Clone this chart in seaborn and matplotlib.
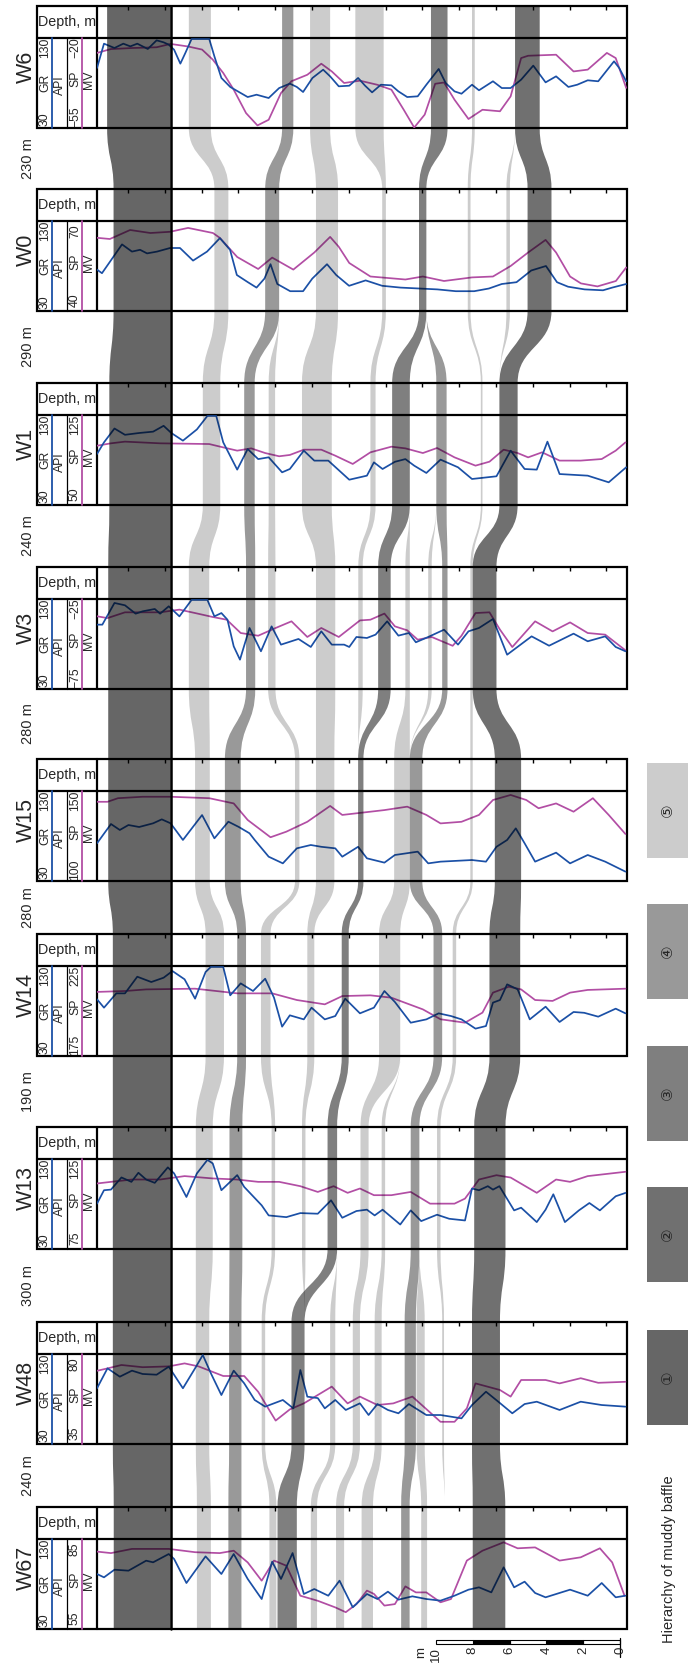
import matplotlib
matplotlib.use("Agg")
import matplotlib.pyplot as plt
from matplotlib.path import Path
from matplotlib.patches import PathPatch, Rectangle
import seaborn as sns

sns.set_theme(style="white")
plt.rcParams['font.family'] = ['Liberation Sans', 'DejaVu Sans', 'Noto Sans CJK SC']

# ---- data -------------------------------------------------------------
WELLS = ["W6", "W0", "W1", "W3", "W15", "W14", "W13", "W48", "W67"]
SPACING = ["230 m", "290 m", "240 m", "280 m", "280 m", "190 m", "300 m", "240 m"]
GR_RANGE = (30, 130)
SP_LO = [-55, 40, 50, -75, 100, 175, 75, 35, 55]
SP_HI = [-20, 70, 125, -25, 150, 225, 125, 80, 85]
HAS_API = [True] * 9

# log curves: depth (m, from left edge of the log track) and values
W6_GR_X = [0, 0.38, 0.95, 1.43, 1.81, 2.19, 2.76, 3.24, 3.62, 3.9, 4.19, 4.53, 4.8, 5.14, 6.1, 6.38, 6.76, 7.24, 8.19, 8.67,
           9.33, 9.9, 10.48, 10.86, 11.2, 11.71, 12.29, 12.67, 13.14, 13.71, 14.19, 14.57, 14.95, 15.43, 16.0, 16.38, 16.86,
           17.43, 17.9, 18.57, 18.95, 19.43, 19.81, 20.38, 20.76, 21.52, 22.0, 22.48, 23.05, 23.71, 24.38, 24.95, 25.62,
           26.1, 26.67, 27.24, 28.1, 28.38, 28.76]
W6_GR = [96.7, 123.7, 118.9, 123.7, 120.7, 123.7, 117.8, 127.4, 125.2, 122.6, 117, 101.5, 113.3, 128.9, 128.9, 109.6, 85.6,
         75.6, 64.4, 67, 63.3, 74.4, 79.3, 75.6, 70, 85.6, 94.8, 87.4, 76.3, 77, 85.6, 77, 69.6, 78.1, 77.4, 70.7, 64.4, 65.2,
         78.1, 95.6, 80, 70.7, 68.1, 78.1, 71.9, 81.9, 74.4, 74.4, 83.7, 99.3, 80.7, 87.4, 75.6, 78.1, 83, 81.9, 104.1, 96.7, 81.9]
W6_SP_X = [0, 0.76, 1.9, 3.24, 4.0, 4.95, 5.71, 6.29, 6.86, 7.43, 8.1, 8.72, 9.33, 10.0, 10.57, 11.43, 12.19, 12.76, 13.43,
           14.29, 15.24, 16.0, 16.67, 17.24, 17.81, 18.38, 18.86, 19.43, 20.19, 20.95, 21.9, 22.48, 23.05, 23.43, 24.95,
           25.9, 26.67, 27.71, 28.19, 28.76]
W6_SP = [-25.8, -24.3, -23.9, -23.6, -22.3, -23.3, -24.5, -28.4, -33.6, -40.1, -49.2, -54, -51.8, -41.4, -36.8, -34.3, -30,
         -33, -37.5, -36.6, -38.2, -40.1, -47.9, -54.8, -49.8, -37.8, -37.3, -44, -51.5, -47.9, -48.5, -42.7, -27.8, -26.9,
         -26.5, -33, -32.3, -25.8, -27.8, -39.4]

W0_GR_X = [0, 0.27, 1.36, 1.9, 2.34, 2.72, 3.26, 3.97, 4.51, 5.22, 5.98, 6.68, 7.23, 7.6, 8.2, 8.67, 9.1, 9.43, 9.8, 10.5,
           11.2, 11.7, 12.5, 13.0, 13.7, 14.6, 15.5, 16.5, 17.5, 18.5, 19.5, 20.5, 21.3, 22.0, 22.8, 23.6, 24.4, 25.0, 25.6,
           26.5, 27.5, 28.0, 28.76]
W0_GR = [76, 72, 104, 96, 98, 94, 96, 100, 100, 86, 96, 111, 98, 70, 62, 56, 66, 82, 60, 52, 52, 66, 82, 70, 58, 64, 58,
         56, 55, 54, 52, 52, 55, 60, 62, 75, 80, 62, 57, 54, 53, 56, 60]
W0_SP_X = [0, 0.7, 1.8, 2.9, 3.97, 4.95, 6.3, 6.67, 7.62, 8.76, 9.52, 10.67, 11.81, 12.67, 13.14, 13.71, 14.86, 16.76,
           17.71, 18.86, 20.38, 21.52, 22.48, 23.43, 24.38, 24.95, 25.71, 26.3, 27.2, 28.2, 28.76]
W0_SP = [64.4, 64, 67, 66, 66.4, 67.7, 66, 64.4, 58, 54, 57.8, 53.8, 59.5, 64.7, 61.4, 56, 51.5, 50.5, 51.5, 50, 51.2,
         51.5, 55, 59.5, 63.7, 59.5, 51.5, 49.2, 48.2, 50, 54.5]

W1_GR_X = [0, 0.38, 0.95, 1.52, 2.29, 3.05, 3.62, 4.04, 4.67, 5.43, 6.0, 6.48, 6.86, 7.62, 8.19, 8.76, 9.33, 10.06, 10.48,
           11.24, 11.81, 12.57, 13.71, 14.67, 15.05, 15.52, 16.19, 16.76, 17.24, 17.9, 18.67, 19.62, 20.38, 21.71, 22.48,
           23.24, 23.9, 24.48, 25.14, 26.67, 27.81, 28.76]
W1_GR = [86.7, 99.6, 115, 108, 110, 111.5, 118, 110, 101.5, 114, 129, 129, 99.6, 69.3, 92.2, 81, 83, 66.3, 70, 90.4, 79.3,
         79.3, 58.1, 62.6, 77.4, 70, 78, 81, 73.7, 65.6, 80.4, 71.9, 58.9, 61.9, 90.4, 70, 69.3, 100.4, 64.4, 62.6, 55.2, 71.9]
W1_SP_X = [0, 0.76, 1.52, 3.43, 6.1, 6.86, 7.62, 8.38, 9.14, 9.9, 10.48, 11.24, 12.19, 12.95, 13.9, 14.86, 16.0, 16.76,
           17.71, 18.48, 19.43, 20.57, 21.33, 22.1, 22.86, 23.43, 24.19, 25.14, 26.29, 27.43, 28.19, 28.72]
W1_SP = [99.4, 101.4, 102.8, 101.4, 100.8, 98, 95.3, 97.2, 93.3, 90.6, 91.7, 96.1, 96.1, 91.1, 84.2, 93.9, 98.6, 97.2,
         93.3, 97.5, 89.7, 82.8, 86.1, 96.1, 93.3, 89.7, 93.9, 87, 87, 88.3, 95.3, 102.2]

W3_GR_X = [0, 0.29, 0.95, 1.52, 2.1, 2.48, 3.14, 3.43, 3.9, 4.48, 5.14, 6.0, 6.38, 6.76, 7.09, 7.43, 7.77, 8.29, 8.91,
           9.49, 10.0, 10.95, 11.62, 12.19, 12.76, 13.43, 13.71, 14.1, 14.67, 15.14, 15.77, 16.38, 16.95, 17.33, 18.0,
           18.86, 19.62, 20.19, 20.76, 21.52, 22.29, 23.62, 24.57, 25.9, 26.67, 27.62, 28.19, 28.72]
W3_GR = [101.5, 101.5, 125.6, 123, 113.7, 116.3, 118.9, 113.7, 121.9, 110.7, 129, 129, 110.7, 114.4, 107, 77.4, 62.6,
         97.8, 71.9, 99.6, 79.3, 85.6, 76.7, 94.1, 79.3, 79.3, 76.7, 87.8, 86.7, 90.4, 105.2, 89.3, 92.2, 81.9, 87.8, 95.9,
         79.3, 94.1, 97.8, 107.8, 68.1, 88.5, 78.1, 91.5, 83, 88.5, 76.7, 71.9]
W3_SP_X = [0, 0.57, 1.52, 3.43, 4.48, 5.33, 6.29, 7.05, 7.81, 8.76, 9.71, 10.57, 11.43, 12.19, 13.14, 14.29, 14.86, 15.62,
           16.19, 16.86, 17.43, 18.19, 19.33, 19.81, 20.57, 21.33, 21.9, 22.57, 23.81, 24.76, 25.71, 26.67, 27.62, 28.72]
W3_SP = [-34.6, -35.6, -32.4, -32.4, -30.9, -32.8, -35, -36.5, -43.9, -45.4, -41.1, -37.4, -46.1, -41.1, -46.1, -36.9,
         -36.5, -33.1, -40.2, -42.4, -47.6, -46.1, -51, -45.4, -32.8, -32.4, -42, -51.7, -37.4, -43, -38, -43.9, -44.8, -53.5]

W15_GR_X = [0, 0.76, 1.24, 1.71, 2.29, 3.05, 3.52, 4.0, 4.67, 5.71, 6.38, 7.14, 7.71, 8.29, 8.57, 9.33, 10.1, 10.86,
            11.62, 12.19, 12.95, 13.33, 14.19, 14.67, 15.62, 16.19, 17.43, 18.0, 18.67, 20.38, 21.14, 21.71, 22.29, 22.76,
            23.24, 23.81, 24.95, 25.71, 26.67, 27.62, 28.72]
W15_GR = [71.9, 93.3, 86.7, 92.2, 90, 94.1, 98.5, 94.1, 75.6, 103.3, 77.4, 95.9, 90, 83, 75.6, 57, 49.6, 66.3, 70, 68,
          66.3, 57, 68, 55.2, 50.4, 58.9, 62.6, 49.6, 51.5, 53.3, 51.5, 68, 75.6, 88.5, 71.9, 51.5, 61.5, 49.6, 58.9, 51.5, 40.4]
W15_SP_X = [0, 0.57, 1.14, 2.48, 4.0, 6.1, 7.43, 8.19, 9.43, 10.29, 11.43, 12.67, 13.33, 14.86, 15.62, 16.86, 17.9, 18.67,
            19.81, 20.76, 21.52, 22.48, 23.33, 24.0, 24.95, 25.9, 26.95, 27.81, 28.72]
W15_SP = [144, 144, 146, 146.8, 146.8, 146, 143.1, 133.9, 124.3, 127.4, 132.9, 141.7, 136.7, 138.5, 139.4, 141.3, 136.7,
          132, 132.9, 136.7, 145, 147.8, 145, 140.4, 143.1, 138.5, 146, 136.7, 126.1]

W14_GR_X = [0, 0.38, 1.05, 1.52, 2.19, 2.95, 3.62, 4.1, 4.76, 5.33, 5.9, 6.19, 6.86, 7.24, 7.81, 8.48, 9.14, 9.62, 10.06,
            10.48, 11.24, 11.66, 12.38, 12.95, 13.49, 14.29, 15.05, 15.62, 16.19, 17.05, 17.9, 18.57, 19.24, 19.81, 20.57,
            21.14, 21.52, 21.9, 22.29, 22.86, 23.52, 24.38, 25.14, 25.9, 26.48, 27.24, 28.19, 28.72]
W14_GR = [93, 83.7, 99.6, 99.6, 118.1, 112.2, 117, 124.4, 115.2, 93.7, 123.3, 129, 129, 97.4, 110.7, 102.2, 115.9, 94.8,
          62.6, 75.2, 70.7, 83.7, 70.7, 74.4, 93.7, 77.4, 83.7, 102.2, 90, 67, 70.7, 77.4, 74.4, 70.7, 60.4, 63.3, 89.3,
          92.2, 109.6, 104.1, 70.7, 84.8, 67.8, 78.9, 78, 73.7, 82.6, 77.4]
W14_SP_X = [0, 1.52, 2.67, 5.33, 6.48, 7.62, 9.52, 10.86, 12.38, 13.33, 14.86, 16.0, 17.71, 18.67, 20.0, 20.95, 21.52,
            22.38, 23.05, 23.81, 24.76, 25.71, 26.67, 28.72]
W14_SP = [210.6, 211.1, 212, 212.4, 211.1, 209.8, 209.8, 206.1, 203.7, 208.3, 208.7, 207.4, 200.9, 195.4, 193.5, 199.1,
          210.2, 213.5, 212, 206.1, 205.6, 210.2, 211.7, 212.4]

W13_GR_X = [0, 0.38, 0.76, 1.33, 1.87, 2.25, 2.67, 3.14, 3.85, 4.19, 4.86, 5.43, 6.0, 6.29, 6.76, 7.62, 8.0, 8.95, 9.33,
            10.29, 11.05, 12.0, 12.72, 13.33, 14.1, 14.67, 15.09, 15.52, 16.48, 17.05, 17.62, 18.48, 19.14, 20.0, 20.38,
            20.76, 21.24, 21.52, 21.87, 22.67, 23.05, 23.9, 24.38, 24.8, 25.43, 26.19, 26.76, 27.33, 28.19, 28.72]
W13_GR = [80.4, 95.3, 96, 109.5, 104.6, 114.7, 107.2, 103.5, 120.7, 114, 87.8, 114, 129, 125.1, 95.3, 112.1, 99, 78.5,
          67.3, 65.4, 69.9, 69.2, 84.1, 64.7, 72.2, 73.7, 67.3, 73.7, 57.2, 72.9, 61, 68.1, 63.6, 61.7, 97.2, 95.3, 99.8,
          96, 99.8, 72.9, 75.9, 59.9, 73.7, 90.8, 59.9, 72.9, 81.1, 72.9, 88.6, 92.3]
W13_SP_X = [0, 0.76, 1.9, 3.43, 4.76, 6.29, 7.62, 8.76, 9.9, 11.05, 12.0, 12.86, 13.62, 14.29, 15.05, 16.0, 17.05, 18.1,
            19.43, 20.0, 20.76, 21.71, 22.48, 23.9, 24.95, 25.71, 26.67, 28.72]
W13_SP = [111.4, 112.3, 113.6, 113.6, 115.5, 114.2, 113.6, 112.3, 112.3, 109.9, 106.7, 109.9, 106.2, 108.6, 104.9, 104.9,
          106.7, 100.2, 100.2, 103, 113.6, 116, 114.7, 106.2, 113.6, 112.3, 115.5, 117.9]

W48_GR_X = [0, 0.57, 1.24, 1.9, 2.48, 3.24, 3.9, 4.67, 5.33, 5.75, 6.19, 6.76, 7.43, 8.0, 8.57, 9.14, 10.1, 10.67, 11.05,
            11.43, 12.0, 12.38, 12.95, 13.52, 14.29, 14.76, 15.24, 15.81, 16.38, 16.95, 17.9, 18.67, 19.81, 20.38, 21.14,
            21.81, 22.57, 23.24, 23.9, 25.14, 26.29, 27.43, 28.72]
W48_GR = [91.9, 114.1, 104.8, 111.5, 107.8, 107, 115.9, 91.9, 114.1, 128.9, 108.5, 84.4, 111.5, 97.4, 78.9, 71.5, 78.9,
          69.6, 112.2, 82.6, 81, 69.6, 78.9, 67.8, 75.2, 62.2, 74.4, 67.8, 64.1, 74.4, 62.2, 62.2, 58.5, 73.3, 88.1, 77,
          64.1, 74.4, 77, 67.8, 77, 73.3, 71.5]
W48_SP_X = [0, 0.57, 1.33, 2.48, 3.9, 4.76, 5.52, 6.86, 8.0, 8.76, 9.71, 10.48, 11.24, 12.76, 13.62, 14.29, 15.24, 16.1,
            17.14, 18.67, 19.43, 20.1, 20.57, 21.9, 22.48, 23.05, 24.38, 25.14, 26.29, 27.24, 28.72]
W48_SP = [71.6, 72.8, 74.5, 73.4, 73.8, 75.3, 73.8, 69, 69, 61.1, 46.7, 52.3, 55.3, 63.7, 55.3, 58.7, 54.5, 55.3, 58.7,
          46.1, 46.1, 52.8, 65.3, 62, 58.7, 67, 67, 65.3, 67.9, 65.6, 66.1]

W67_GR_X = [0, 0.38, 0.95, 1.71, 2.67, 3.05, 3.9, 4.19, 4.86, 5.9, 6.76, 7.43, 8.19, 8.95, 9.52, 10.0, 10.63, 11.24,
            11.81, 12.57, 13.18, 13.9, 14.67, 15.24, 15.81, 16.38, 17.14, 17.9, 18.67, 19.43, 20.19, 20.76, 21.43, 22.1,
            22.67, 23.24, 23.81, 24.38, 25.71, 26.67, 27.43, 28.19, 28.72]
W67_GR = [91.1, 87.4, 95.9, 94.8, 105.9, 104.1, 113.3, 107.8, 81.1, 110.7, 91.1, 113.3, 85.6, 63.3, 104.8, 85.6, 114.4,
          68.9, 74.4, 67, 83.7, 54.1, 68.9, 63.3, 71.5, 62.6, 66.3, 63.3, 61.5, 67, 73.7, 76.3, 70.7, 98.5, 76.3, 82.6, 70,
          65.2, 73.7, 67, 81.1, 65.2, 67]
W67_SP_X = [0, 0.76, 1.9, 3.9, 5.33, 6.67, 7.43, 8.19, 8.95, 9.62, 10.29, 11.05, 12.0, 12.95, 13.52, 14.1, 14.67, 15.05,
            15.62, 16.19, 16.76, 17.33, 17.9, 18.67, 19.24, 20.1, 20.95, 22.1, 22.86, 23.81, 25.14, 26.29, 27.33, 28.0, 28.67]
W67_SP = [80.8, 80.3, 81.7, 81.7, 80.6, 80.3, 81.1, 77.2, 71.1, 77.8, 76.1, 66.1, 64.4, 62.2, 60.6, 63.3, 67.8, 66.7,
          62.8, 63.3, 69.2, 67.2, 67.2, 63.9, 65, 77.8, 81.1, 83.9, 81.9, 82.2, 77.8, 78.9, 81.9, 77.2, 66.1]

GR_X = [W6_GR_X, W0_GR_X, W1_GR_X, W3_GR_X, W15_GR_X, W14_GR_X, W13_GR_X, W48_GR_X, W67_GR_X]
GR = [W6_GR, W0_GR, W1_GR, W3_GR, W15_GR, W14_GR, W13_GR, W48_GR, W67_GR]
SP_X = [W6_SP_X, W0_SP_X, W1_SP_X, W3_SP_X, W15_SP_X, W14_SP_X, W13_SP_X, W48_SP_X, W67_SP_X]
SP = [W6_SP, W0_SP, W1_SP, W3_SP, W15_SP, W14_SP, W13_SP, W48_SP, W67_SP]

# muddy baffles: (top, bottom) depth in m per well, None = absent, equal values = pinch-out
BAFFLE_1 = [(0.55, 4.0), (0.9, 4.0), (0.67, 4.0), (0.61, 4.0), (0.61, 4.0), (0.86, 4.0), (0.86, 4.0), (0.86, 4.0), (0.91, 4.0)]
BAFFLE_B = [(4.99, 6.19), (6.38, 7.14), (5.75, 6.7), (4.99, 6.1), (5.33, 6.13), (5.9, 6.9), (5.37, 6.29), (5.37, 6.1), (5.43, 6.19)]
BAFFLE_C = [(10.06, 10.67), (9.14, 9.9), (8.0, 8.57), (8.1, 8.6), (6.95, 7.81), (7.62, 8.1), (7.2, 7.9), (7.18, 7.85), (7.14, 7.85)]
BAFFLE_D = [None, (9.9, 9.9), (9.33, 9.68), (9.3, 9.7), (10.76, 11.0), (8.91, 9.43), (9.49, 9.68), (8.95, 9.14), (9.37, 9.75)]
BAFFLE_E = [(11.58, 12.67), (11.9, 13.1), (11.14, 12.76), (11.9, 12.95), (11.9, 12.9), (11.43, 11.81), (11.14, 11.33), (11.28, 11.28), None]
BAFFLE_F = [(14.04, 15.58), (15.5, 15.7), (14.86, 15.14), (14.2, 14.44), (14.19, 14.19), None, None, None, None]
BAFFLE_G = [(18.15, 19.05), (17.5, 17.9), (16.04, 17.0), (15.28, 15.96), (14.19, 14.48), (13.3, 13.68), (12.53, 13.05), (10.57, 11.28), (9.81, 10.86)]
BAFFLE_M = [None, None, (17.0, 17.0), (16.76, 17.0), (16.15, 17.0), (15.33, 16.48), (14.32, 14.76), (13.9, 14.29), (12.99, 13.43)]
BAFFLE_N = [None, None, (18.44, 18.44), (18.0, 18.19), (17.0, 17.0), None, None, None, None]
BAFFLE_H = [None, None, None, None, None, (16.48, 16.48), (15.47, 15.66), (15.09, 15.47), (14.38, 15.0)]
BAFFLE_P = [None, None, None, None, None, None, (13.05, 13.05), (12.67, 12.95), (11.62, 11.96)]
BAFFLE_J = [None, (17.9, 17.9), (18.44, 19.0), (18.76, 19.05), (17.0, 17.68), (18.29, 18.76), (17.05, 17.52), (16.72, 17.33), (16.53, 16.99)]
BAFFLE_Q = [None, None, None, None, None, None, (17.52, 17.52), (17.37, 17.81), (17.62, 17.94)]
BAFFLE_K = [(20.38, 20.53), (20.15, 20.3), (20.86, 20.95), (20.29, 20.42), (20.29, 20.42), (19.33, 19.52), (18.48, 18.67), (18.76, 18.86), (18.9, 18.9)]
BAFFLE_L = [(22.72, 22.72), (22.25, 22.44), (21.87, 21.87), None, None, None, None, None, None]
BAFFLE_2 = [(22.72, 24.06), (23.4, 24.7), (21.87, 22.86), (20.42, 21.71), (21.62, 23.05), (21.33, 23.0), (20.5, 22.2), (20.38, 21.9), (20.42, 22.19)]
BAFFLES = [(1, BAFFLE_1), (5, BAFFLE_B), (4, BAFFLE_C), (5, BAFFLE_D), (5, BAFFLE_E), (5, BAFFLE_F), (3, BAFFLE_G),
           (5, BAFFLE_M), (5, BAFFLE_N), (5, BAFFLE_H), (5, BAFFLE_P), (4, BAFFLE_J), (5, BAFFLE_Q), (5, BAFFLE_K),
           (5, BAFFLE_L), (2, BAFFLE_2)]

LEVELS = [5, 4, 3, 2, 1]
LEVEL_MARK = {1: "\u2460", 2: "\u2461", 3: "\u2462", 4: "\u2463", 5: "\u2464"}
LEVEL_ALPHA = {1: 0.60, 2: 0.56, 3: 0.50, 4: 0.40, 5: 0.20}
SCALE_M = [0, 2, 4, 6, 8, 10]

# ---- layout (pixels of the 688 x 1667 figure) ---------------------------
W, H = 688, 1667
PX_PER_M = 18.4
X0 = 97          # left edge of log track
LOG_W = 28.8     # track width in m
PANEL_TOP = [6, 189, 383, 567, 759, 934, 1127, 1322, 1507]
HEAD_H, PANEL_H = 32, 122
BLUE, MAGENTA = "#1b50a6", "#b24ea4"


def mx(px):
    return (px - X0) / PX_PER_M


fig = plt.figure(figsize=(W / 100, H / 100), dpi=100)
ax = fig.add_axes([0, 0, 1, 1])
ax.set_xlim(mx(0), mx(W))
ax.set_ylim(H, 0)
ax.axis("off")

for i, name in enumerate(WELLS):
    top = PANEL_TOP[i]
    lt, bot = top + HEAD_H, top + PANEL_H
    ax.add_patch(Rectangle((mx(37), top), LOG_W - mx(37), PANEL_H, fill=False, lw=1.6, ec="black", zorder=5))
    ax.plot([mx(37), LOG_W], [lt, lt], color="black", lw=1.6, zorder=5)
    ax.plot([0, 0], [top, bot], color="black", lw=1.6, zorder=5)
    ax.plot([mx(67), mx(67)], [lt, bot], color="black", lw=0.9, zorder=5)
    ax.plot([mx(52), mx(52)], [lt, bot], color=BLUE, lw=1.3, zorder=5)
    ax.plot([mx(82), mx(82)], [lt, bot], color=MAGENTA, lw=1.3, zorder=5)
    ticks = [1.68 + 2 * k for k in range(14)]
    ax.vlines(ticks, top, top + 3.5, color="black", lw=1.0, zorder=5)

    ax.text(mx(38.5), top + 16, "Depth, m", ha="left", va="center", fontsize=10.3)
    ax.text(mx(26), top + 61, name, rotation=90, ha="center", va="center", fontsize=15.5)
    kw = dict(rotation=90, ha="center", va="center", fontsize=8.8)
    ax.text(mx(45), lt + 10, "130", **kw)
    ax.text(mx(45), lt + 45, "GR", **kw)
    ax.text(mx(45), bot - 9, "30", **kw)
    if HAS_API[i]:
        ax.text(mx(60), lt + 47, "API", **kw)
    ax.text(mx(75), lt + 10, f"{SP_HI[i]}".replace("-", "\u2212"), **kw)
    ax.text(mx(75), lt + 41, "SP", **kw)
    ax.text(mx(75), bot - 11, f"{SP_LO[i]}".replace("-", "\u2212"), **kw)
    ax.text(mx(89), lt + 42, "MV", **kw)
    if i < len(SPACING):
        ax.text(mx(28), (bot + PANEL_TOP[i + 1]) / 2, SPACING[i], rotation=90, ha="center", va="center", fontsize=10.5)

    # log curves on their own scales
    rect = [X0 / W, 1 - bot / H, LOG_W * PX_PER_M / W, (PANEL_H - HEAD_H) / H]
    ax_sp = fig.add_axes(rect)
    sns.lineplot(x=SP_X[i], y=SP[i], ax=ax_sp, color=MAGENTA, linewidth=1.25, sort=False, estimator=None)
    ax_sp.set_xlim(0, LOG_W)
    ax_sp.set_ylim(SP_LO[i], SP_HI[i])
    ax_sp.axis("off")
    ax_gr = fig.add_axes(rect)
    sns.lineplot(x=GR_X[i], y=GR[i], ax=ax_gr, color=BLUE, linewidth=1.25, sort=False, estimator=None)
    ax_gr.set_xlim(0, LOG_W)
    ax_gr.set_ylim(*GR_RANGE)
    ax_gr.axis("off")
    for a in (ax_sp, ax_gr):
        for ln in a.lines:
            ln.set_solid_joinstyle("round")

# legend
LEG_TOP = [763, 904, 1046, 1187, 1330]
for lev, y0 in zip(LEVELS, LEG_TOP):
    ax.add_patch(Rectangle((mx(647), y0), mx(700) - mx(647), 95, facecolor="black", alpha=LEVEL_ALPHA[lev], lw=0))
    ax.text(mx(667), y0 + 47, LEVEL_MARK[lev], rotation=90, ha="center", va="center", fontsize=11,
            family=["DejaVu Sans", "Noto Sans CJK SC"])
ax.text(mx(669), 1559, "Hierarchy of muddy baffle", rotation=90, ha="center", va="center", fontsize=10.5)

# scale bar
zero = mx(620)
for a, b in zip(SCALE_M[:-1], SCALE_M[1:]):
    fc = "black" if a in (2, 6) else "white"
    ax.add_patch(Rectangle((zero - b, 1640), b - a, 4, facecolor=fc, edgecolor="black", lw=0.8))
for v in SCALE_M:
    ax.text(zero - v, 1647, str(v), rotation=90, ha="center", va="top", fontsize=9.5)
ax.text(zero - 10 - 0.78, 1647, "m", rotation=90, ha="center", va="top", fontsize=9.5)
ax.plot([zero, zero], [1638, 1657], color="black", lw=0.9)

# baffle bands drawn on top with transparency
ax_top = fig.add_axes([0, 0, 1, 1])
ax_top.set_xlim(mx(0), mx(W))
ax_top.set_ylim(H, 0)
ax_top.axis("off")
tops = PANEL_TOP
bots = [t + PANEL_H for t in PANEL_TOP]
for lev, baffle in BAFFLES:
    segs = [(i, v[0], v[1]) for i, v in enumerate(baffle) if v is not None]
    verts, codes = [], []
    for k, (i, l, r) in enumerate(segs):
        if k == 0:
            verts.append((l, tops[i])); codes.append(Path.MOVETO)
        else:
            pi, pl, pr = segs[k - 1]
            ym = (bots[pi] + tops[i]) / 2
            verts += [(pl, ym), (l, ym), (l, tops[i])]; codes += [Path.CURVE4] * 3
        verts.append((l, bots[i])); codes.append(Path.LINETO)
    for k in range(len(segs) - 1, -1, -1):
        i, l, r = segs[k]
        if k == len(segs) - 1:
            verts.append((r, bots[i])); codes.append(Path.LINETO)
        else:
            ni, nl, nr = segs[k + 1]
            ym = (bots[i] + tops[ni]) / 2
            verts += [(nr, ym), (r, ym), (r, bots[i])]; codes += [Path.CURVE4] * 3
        verts.append((r, tops[i])); codes.append(Path.LINETO)
    verts.append(verts[0]); codes.append(Path.CLOSEPOLY)
    ax_top.add_patch(PathPatch(Path(verts, codes), facecolor="black", alpha=LEVEL_ALPHA[lev], lw=0))

# datum line
ax_top.plot([4.0, 4.0], [PANEL_TOP[0], PANEL_TOP[-1] + PANEL_H], color="black", lw=1.8)

fig.savefig("out.png", dpi=100)
